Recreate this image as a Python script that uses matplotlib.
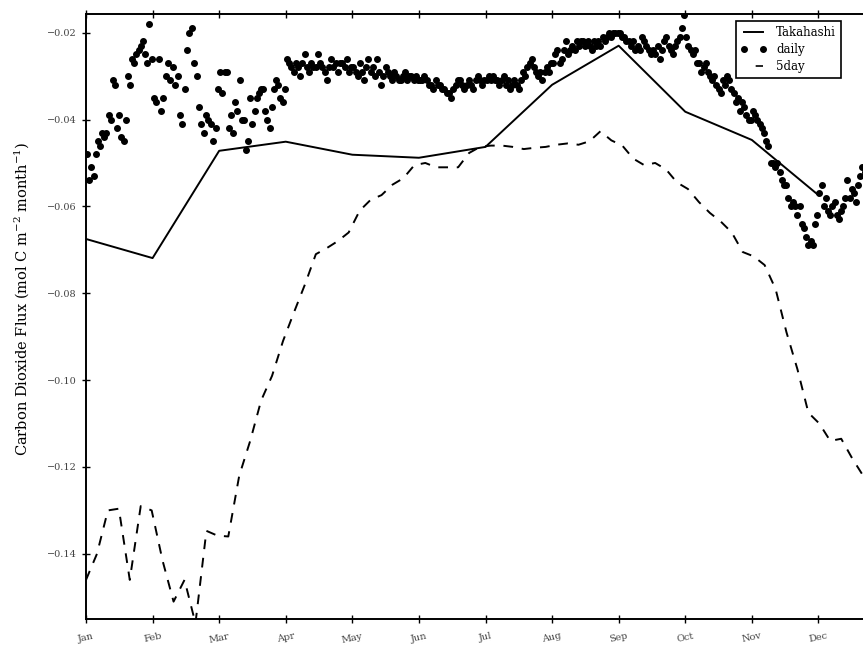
import numpy as np
import matplotlib.pyplot as plt

plt.rcParams['font.family'] = ['DejaVu Serif']
plt.rcParams['mathtext.fontset'] = 'dejavuserif'

months = ['Jan', 'Feb', 'Mar', 'Apr', 'May', 'Jun',
          'Jul', 'Aug', 'Sep', 'Oct', 'Nov', 'Dec']

# Takahashi monthly climatology
takahashi = [-0.0675, -0.0719, -0.0472, -0.0451, -0.0481, -0.0488,
             -0.0463, -0.0320, -0.0230, -0.0382, -0.0447, -0.0574]

# daily values, one list per month
daily_jan = [-0.048, -0.054, -0.051, -0.053, -0.048, -0.045, -0.046, -0.043, -0.044, -0.043,
             -0.039, -0.040, -0.031, -0.032, -0.042, -0.039, -0.044, -0.045, -0.040, -0.030,
             -0.032, -0.026, -0.027, -0.025, -0.024, -0.023, -0.022, -0.025, -0.027, -0.018, -0.026]
daily_feb = [-0.035, -0.036, -0.026, -0.038, -0.035, -0.030, -0.027, -0.031, -0.028, -0.032,
             -0.030, -0.039, -0.041, -0.033, -0.024, -0.020, -0.019, -0.027, -0.030, -0.037,
             -0.041, -0.043, -0.039, -0.040, -0.041, -0.045, -0.042, -0.033]
daily_mar = [-0.029, -0.034, -0.029, -0.029, -0.042, -0.039, -0.043, -0.036, -0.038, -0.031,
             -0.040, -0.040, -0.047, -0.045, -0.035, -0.041, -0.038, -0.035, -0.034, -0.033,
             -0.033, -0.038, -0.040, -0.042, -0.037, -0.033, -0.031, -0.032, -0.035, -0.036, -0.033]
daily_apr = [-0.026, -0.027, -0.028, -0.029, -0.027, -0.028, -0.030, -0.027, -0.025, -0.028,
             -0.029, -0.027, -0.028, -0.028, -0.025, -0.027, -0.028, -0.029, -0.031, -0.028,
             -0.026, -0.028, -0.027, -0.029, -0.027, -0.027, -0.028, -0.026, -0.029, -0.028]
daily_may = [-0.028, -0.029, -0.030, -0.027, -0.029, -0.031, -0.028, -0.026, -0.029, -0.028,
             -0.030, -0.026, -0.029, -0.032, -0.030, -0.028, -0.029, -0.030, -0.031, -0.029,
             -0.030, -0.031, -0.031, -0.030, -0.029, -0.031, -0.030, -0.030, -0.031, -0.030, -0.031]
daily_jun = [-0.031, -0.031, -0.030, -0.031, -0.032, -0.032, -0.033, -0.031, -0.032, -0.032,
             -0.033, -0.033, -0.034, -0.034, -0.035, -0.033, -0.032, -0.031, -0.031, -0.032,
             -0.033, -0.032, -0.031, -0.032, -0.033, -0.031, -0.030, -0.031, -0.032, -0.031]
daily_jul = [-0.031, -0.030, -0.031, -0.030, -0.031, -0.031, -0.032, -0.031, -0.030, -0.032,
             -0.031, -0.033, -0.032, -0.031, -0.032, -0.033, -0.031, -0.029, -0.030, -0.028,
             -0.027, -0.026, -0.028, -0.029, -0.030, -0.029, -0.031, -0.029, -0.028, -0.029, -0.027]
daily_aug = [-0.027, -0.025, -0.024, -0.027, -0.026, -0.024, -0.022, -0.025, -0.024, -0.023,
             -0.024, -0.022, -0.023, -0.022, -0.022, -0.023, -0.022, -0.023, -0.024, -0.022,
             -0.023, -0.022, -0.023, -0.021, -0.022, -0.021, -0.020, -0.021, -0.020, -0.020, -0.020]
daily_sep = [-0.020, -0.021, -0.021, -0.022, -0.022, -0.023, -0.022, -0.024, -0.023, -0.024,
             -0.021, -0.022, -0.023, -0.024, -0.025, -0.024, -0.025, -0.023, -0.026, -0.024,
             -0.022, -0.021, -0.023, -0.024, -0.025, -0.023, -0.022, -0.021, -0.019, -0.016]
daily_oct = [-0.021, -0.023, -0.024, -0.025, -0.024, -0.027, -0.027, -0.029, -0.028, -0.027,
             -0.029, -0.030, -0.031, -0.030, -0.032, -0.033, -0.034, -0.031, -0.032, -0.030,
             -0.031, -0.033, -0.034, -0.036, -0.035, -0.038, -0.036, -0.037, -0.039, -0.040, -0.040]
daily_nov = [-0.038, -0.039, -0.040, -0.041, -0.042, -0.043, -0.045, -0.046, -0.050, -0.050,
             -0.051, -0.050, -0.052, -0.054, -0.055, -0.055, -0.058, -0.060, -0.059, -0.060,
             -0.062, -0.060, -0.064, -0.065, -0.067, -0.069, -0.068, -0.069, -0.064, -0.062]
daily_dec = [-0.057, -0.055, -0.060, -0.058, -0.061, -0.062, -0.060, -0.059, -0.062, -0.063,
             -0.061, -0.060, -0.058, -0.054, -0.058, -0.056, -0.057, -0.059, -0.055, -0.053,
             -0.051, -0.052, -0.054, -0.053, -0.055, -0.056, -0.054, -0.055, -0.053, -0.054, -0.052]
daily_months = [daily_jan, daily_feb, daily_mar, daily_apr, daily_may, daily_jun,
                daily_jul, daily_aug, daily_sep, daily_oct, daily_nov, daily_dec]

# 5-day means, one every 5 days from 1 Jan
fiveday = [-0.146, -0.140, -0.130, -0.1296, -0.146, -0.129, -0.130, -0.1416, -0.151, -0.146,
           -0.156, -0.1347, -0.1358, -0.136, -0.122, -0.114, -0.1047, -0.099, -0.091, -0.0844,
           -0.078, -0.071, -0.0696, -0.068, -0.066, -0.061, -0.0585, -0.0574, -0.055, -0.0535,
           -0.0505, -0.050, -0.051, -0.051, -0.051, -0.0477, -0.0463, -0.046, -0.046, -0.0463,
           -0.0468, -0.0465, -0.0463, -0.0458, -0.0455, -0.0458, -0.045, -0.0427, -0.0448, -0.046,
           -0.049, -0.0505, -0.050, -0.0515, -0.0545, -0.056, -0.059, -0.0615, -0.0635, -0.066,
           -0.0705, -0.0715, -0.0735, -0.079, -0.089, -0.0975, -0.1075, -0.110, -0.114, -0.1135,
           -0.118, -0.122, -0.125]

yticks = [-0.14, -0.12, -0.10, -0.08, -0.06, -0.04, -0.02]

# x in month units
daily_x, daily_y = [], []
for m, vals in enumerate(daily_months):
    n = len(vals)
    daily_x += [m + (k + 0.5) / n for k in range(n)]
    daily_y += vals
fiveday_x = np.arange(len(fiveday)) * 5 * 12 / 365.0

W, H = 863, 648
fig = plt.figure(figsize=(W / 100, H / 100), dpi=100)
# axes runs past the right edge of the figure, like the cropped original
ax = fig.add_axes([86 / W, 29 / H, 799 / W, 605 / H])

ax.plot(range(12), takahashi, color='black', lw=1.4, label='Takahashi')
ax.plot(daily_x, daily_y, 'o', color='black', ms=4.0, label='daily')
ax.plot(fiveday_x, fiveday, color='black', lw=1.4, dashes=(5, 4.5), label='5day')

ax.set_xlim(0, 12)
ax.set_ylim(-0.155, -0.0157)
ax.set_xticks(range(12))
ax.set_xticklabels(months, rotation=12, fontsize=7, color='#444444')
ax.set_yticks(yticks)
ax.set_yticklabels(['\u22120.%02d' % round(-v * 100) for v in yticks], fontsize=7, color='#444444')
ax.tick_params(direction='inout', length=6, width=1, top=True, right=True)
ax.tick_params(axis='x', pad=6)
for s in ax.spines.values():
    s.set_linewidth(1.4)

ax.set_ylabel('Carbon Dioxide Flux (mol C m$^{-2}$ month$^{-1}$)', fontsize=10.5)
ax.yaxis.set_label_coords(-0.069, 0.53)

leg = ax.legend(loc='upper left', bbox_to_anchor=(736 / W, 1 - 21 / H),
                bbox_transform=fig.transFigure, fontsize=8.5, numpoints=2,
                fancybox=False, framealpha=1, edgecolor='black',
                handlelength=2.2, borderaxespad=0, borderpad=0.4, labelspacing=0.35)
leg.get_frame().set_linewidth(1.2)
leg.legend_handles[2].set_linestyle((18, (5, 20)))
leg.legend_handles[2].set_linewidth(1.2)

fig.savefig('out.png', dpi=100)
